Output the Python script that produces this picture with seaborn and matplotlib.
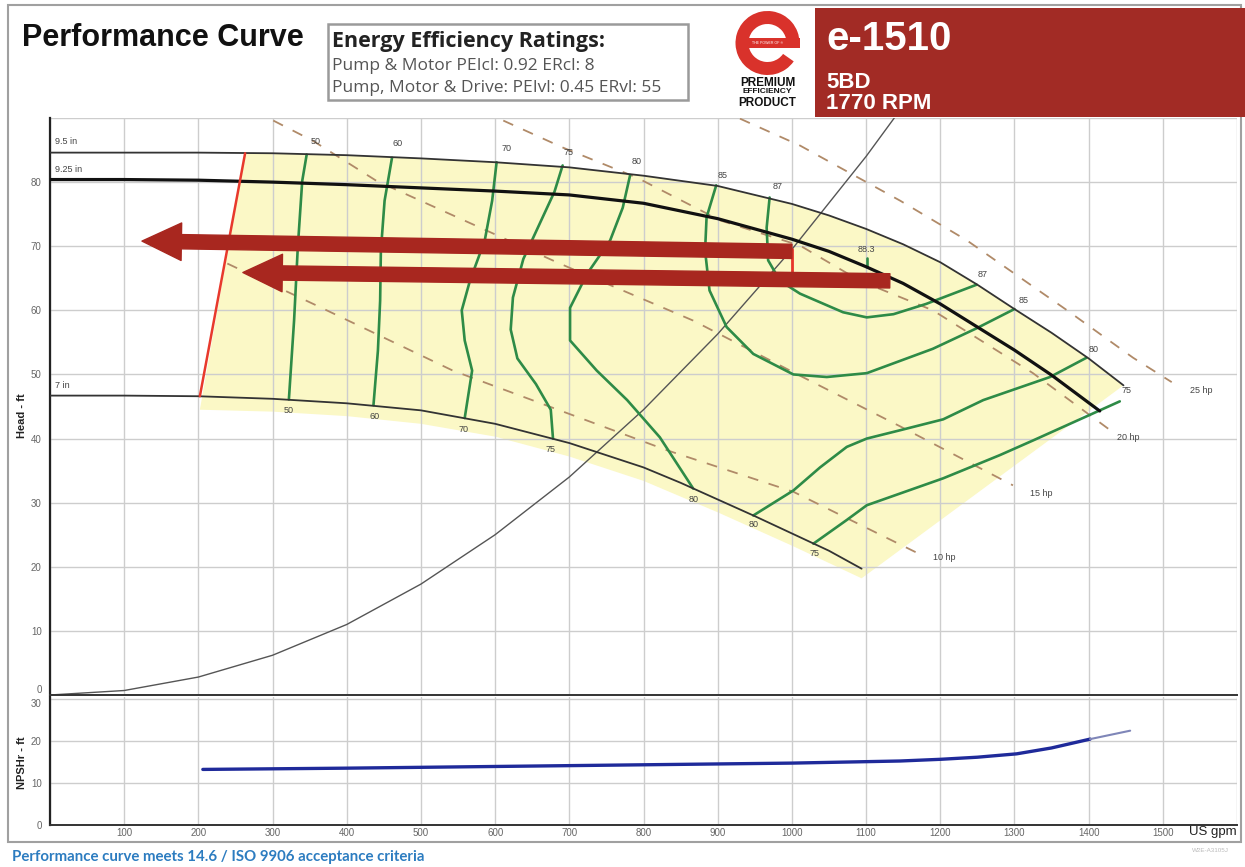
import matplotlib
matplotlib.use("Agg")
import numpy as np
import matplotlib.pyplot as plt
import seaborn as sns
from matplotlib.patches import Rectangle, Wedge, FancyArrowPatch

# ---------------- data (US gpm / ft) ----------------
# impeller head curves
q_950 = [0, 100, 200, 300, 400, 500, 600, 700, 800, 900, 1000, 1050, 1100, 1150, 1200,
         1250, 1300, 1350, 1400, 1447]
h_950 = [84.6, 84.6, 84.6, 84.5, 84.2, 83.7, 83.1, 82.3, 81.0, 79.4, 76.6, 74.8, 72.7, 70.3, 67.5,
         64.0, 60.2, 56.5, 52.5, 48.3]
q_925 = [0, 100, 200, 300, 400, 500, 600, 700, 800, 900, 1000, 1050, 1100, 1150, 1200,
         1250, 1300, 1350, 1415]
h_925 = [80.4, 80.4, 80.3, 80.0, 79.6, 79.1, 78.6, 78.0, 76.7, 74.3, 71.1, 69.2, 66.8, 64.2, 61.0,
         57.4, 53.8, 49.9, 44.3]
q_700 = [0, 100, 200, 300, 400, 500, 600, 700, 800, 850, 900, 950, 1000, 1050, 1094]
h_700 = [46.7, 46.7, 46.6, 46.2, 45.5, 44.4, 42.3, 39.3, 35.5, 33.1, 30.5, 27.9, 25.2, 22.5, 19.7]

# lower edge of the operating region shading
q_shade_low = [202, 300, 400, 500, 600, 700, 800, 900, 1000, 1094]
h_shade_low = [44.5, 44.2, 43.5, 42.3, 40.3, 37.2, 33.4, 28.5, 23.3, 18.2]

# minimum flow line
q_min = [202, 263]
h_min = [46.6, 84.5]

# efficiency contours (%)
eff_lines = {
    "50": ([346, 340, 334, 329, 322], [84.3, 80.2, 69.8, 58.4, 46.1]),
    "60": ([461, 451, 446, 445, 442, 436], [83.8, 77.1, 69.3, 61.5, 53.7, 45.2]),
    "70": ([602, 596, 586, 566, 555, 559, 569, 559], [83.1, 77.1, 70.9, 64.6, 60.0, 55.3, 50.6, 43.2]),
    "75a": ([691, 680, 660, 638, 624, 621, 630, 655, 675, 678],
            [82.6, 78.5, 73.5, 68.0, 62.0, 57.0, 52.5, 48.5, 44.5, 40.0]),
    "80a": ([782, 772, 755, 724, 701, 701, 737, 778, 822, 867],
            [81.1, 76.0, 70.9, 65.7, 60.4, 55.3, 50.6, 46.0, 40.2, 32.2]),
    "85": ([898, 885, 883, 889, 912, 948, 1002, 1047, 1101, 1190, 1249, 1300],
           [79.5, 74.5, 69.3, 63.1, 57.4, 53.2, 50.0, 49.6, 50.2, 54.0, 57.2, 60.2]),
    "87": ([970, 966, 968, 984, 1011, 1069, 1101, 1137, 1181, 1249],
           [77.6, 72.9, 67.8, 64.6, 62.6, 59.7, 58.9, 59.4, 61.0, 64.0]),
    "88.3": ([1101, 1101], [68.2, 66.8]),
    "80b": ([948, 1002, 1038, 1074, 1101, 1146, 1204, 1258, 1348, 1397],
            [28.0, 31.9, 35.5, 38.7, 40.0, 41.3, 43.0, 46.0, 49.6, 52.6]),
    "75b": ([1029, 1074, 1101, 1204, 1280, 1325, 1442], [23.6, 27.3, 29.6, 33.8, 37.4, 39.7, 45.8]),
}
eff_text = ["50", "60", "70", "75", "80", "85", "87", "88.3", "87", "85", "80", "75",
            "50", "60", "70", "75", "80", "80", "75"]
eff_text_q = [358, 469, 615, 699, 791, 907, 981, 1101, 1257, 1313, 1407, 1451,
              322, 438, 558, 675, 867, 949, 1030]
eff_text_h = [86.3, 86.0, 85.2, 84.6, 83.2, 81.0, 79.3, 69.5, 65.6, 61.5, 53.9, 47.5,
              44.4, 43.5, 41.4, 38.3, 30.5, 26.6, 22.1]

# power lines (hp)
hp_lines = {
    "10 hp": ([239, 364, 543, 831, 1002, 1170], [67.3, 60.5, 50.6, 38.2, 31.7, 22.1]),
    "15 hp": ([301, 355, 440, 687, 867, 1011, 1146, 1298], [89.6, 86.4, 80.2, 67.3, 58.4, 49.8, 41.9, 32.7]),
    "20 hp": ([611, 691, 791, 904, 1011, 1092, 1190, 1325, 1428], [89.6, 85.4, 80.7, 74.0, 70.1, 64.6, 60.0, 50.2, 41.4]),
    "25 hp": ([930, 1011, 1146, 1236, 1371, 1460, 1512], [89.9, 85.7, 77.1, 70.9, 60.0, 52.6, 48.8]),
}
hp_text_q = [1190, 1321, 1438, 1536]
hp_text_h = [21.5, 31.5, 40.2, 47.5]

# system curve
q_sys = [0, 100, 200, 300, 400, 500, 600, 700, 800, 900, 1000, 1100, 1138]
h_sys = [0, 0.7, 2.8, 6.2, 11.0, 17.3, 25.0, 34.0, 44.5, 56.3, 69.5, 84.0, 90.0]

# duty point arrows (tail -> tip)
arrow_tail_q = [1000, 1132]
arrow_tail_h = [69.2, 64.6]
arrow_tip_q = [124, 260]
arrow_tip_h = [70.8, 65.9]
duty_q = [1000, 1000]
duty_h = [69.6, 65.5]

# NPSHr
q_npsh = [206, 400, 600, 800, 1000, 1146, 1200, 1250, 1303, 1350, 1402]
h_npsh = [13.2, 13.5, 13.9, 14.3, 14.7, 15.2, 15.6, 16.1, 16.9, 18.3, 20.4]
q_npsh_ext = [1402, 1456]
h_npsh_ext = [20.4, 22.4]

x_ticks = list(range(0, 1601, 100))
x_tick_labels = [""] + [str(v) for v in range(100, 1501, 100)] + [""]
head_ticks = list(range(0, 91, 10))
head_tick_labels = [str(v) for v in range(0, 81, 10)] + [""]
npsh_ticks = [0, 10, 20, 30]

# ---------------- figure ----------------
sns.set_theme(style="white")
plt.rcParams["font.family"] = ["Liberation Sans", "DejaVu Sans"]

W, H = 1245, 867
fig = plt.figure(figsize=(W / 100, H / 100), dpi=100)


def fx(px):
    return px / W


def fy(py):
    return 1 - py / H


ax = fig.add_axes([fx(50), fy(695), fx(1237) - fx(50), fy(118) - fy(695)])
axn = fig.add_axes([fx(50), fy(825), fx(1237) - fx(50), fy(697) - fy(825)])

GRID = "#cdcdcd"
for a in (ax, axn):
    a.set_xlim(0, 1600)
    a.set_xticks(x_ticks)
    a.grid(True, color=GRID, lw=1.0)
    a.set_axisbelow(True)
    for s in ("top", "right"):
        a.spines[s].set_visible(False)
    a.spines["left"].set_color("#222")
    a.spines["left"].set_linewidth(1.6)
    a.spines["bottom"].set_color("#333")
    a.spines["bottom"].set_linewidth(1.4)
    a.tick_params(length=0, labelsize=7, labelcolor="#666", pad=6)

ax.set_ylim(0, 90)
ax.set_yticks(head_ticks)
ax.set_yticklabels(head_tick_labels)
ax.set_xticklabels([])
axn.set_ylim(0, 30.4)
axn.set_yticks(npsh_ticks)
axn.set_xticklabels(x_tick_labels)
axn.tick_params(axis="x", pad=2)
ax.get_yticklabels()[0].set_va("bottom")
axn.get_yticklabels()[-1].set_va("top")

ax.set_ylabel("Head - ft", fontsize=8, weight="bold", color="#222")
ax.yaxis.set_label_coords(-0.019, 0.485)
axn.set_ylabel("NPSHr - ft", fontsize=8, weight="bold", color="#222")
axn.yaxis.set_label_coords(-0.019, 0.49)
axn.set_xlabel("")


def line(a, q, h, **kw):
    sns.lineplot(x=q, y=h, ax=a, sort=False, estimator=None, legend=False,
                 solid_joinstyle="round", solid_capstyle="round", **kw)


# operating region shading
top_q = [263] + [q for q in q_950 if q > 263]
top_h = list(np.interp(top_q, q_950, h_950))
poly_q = top_q + q_shade_low[::-1]
poly_h = top_h + h_shade_low[::-1]
ax.fill(poly_q, poly_h, color="#fbf8c6", lw=0, zorder=0.2)

# power lines
for (name, (q, h)), tq, th in zip(hp_lines.items(), hp_text_q, hp_text_h):
    sns.lineplot(x=q, y=h, ax=ax, sort=False, estimator=None, legend=False,
                 color="#b08a68", lw=1.3, linestyle=(0, (6, 6)), zorder=2)
    ax.text(tq, th, name, fontsize=6.5, color="#444", ha="left", va="center")

# system curve
line(ax, q_sys, h_sys, color="#555", lw=1.0, zorder=2)

# efficiency contours
for name, (q, h) in eff_lines.items():
    line(ax, q, h, color="#2e8b47", lw=1.9, zorder=3)
for t, q, h in zip(eff_text, eff_text_q, eff_text_h):
    ax.text(q, h, t, fontsize=6.5, color="#444", ha="center", va="center")

# head curves
line(ax, q_950, h_950, color="#333", lw=1.3, zorder=4)
line(ax, q_700, h_700, color="#333", lw=1.3, zorder=4)
line(ax, q_925, h_925, color="#111", lw=2.3, zorder=4)
ax.text(7, 86.3, "9.5 in", fontsize=6.5, color="#444", ha="left", va="center")
ax.text(7, 81.9, "9.25 in", fontsize=6.5, color="#444", ha="left", va="center")
ax.text(7, 48.2, "7 in", fontsize=6.5, color="#444", ha="left", va="center")

# minimum flow
line(ax, q_min, h_min, color="#e8392c", lw=1.8, zorder=4)

# duty point marker and arrows
line(ax, duty_q, duty_h, color="#e8352a", lw=2.0, zorder=5)
for tq, th, hq, hh in zip(arrow_tail_q, arrow_tail_h, arrow_tip_q, arrow_tip_h):
    arr = FancyArrowPatch((tq, th), (hq, hh),
                          arrowstyle="simple,head_length=1.05,head_width=1.0,tail_width=0.38",
                          mutation_scale=27, color="#a8271f", shrinkA=0, shrinkB=0, zorder=6)
    ax.add_patch(arr)

# NPSHr
line(axn, q_npsh, h_npsh, color="#1f2a9a", lw=2.4, zorder=3)
line(axn, q_npsh_ext, h_npsh_ext, color="#7f86b8", lw=1.5, zorder=3)

# ---------------- header, frame and footer ----------------
deco = fig.add_axes([0, 0, 1, 1])
deco.set_xlim(0, W)
deco.set_ylim(H, 0)
deco.axis("off")
deco.patch.set_alpha(0)

deco.add_patch(Rectangle((8, 5), 1233, 837, fill=False, ec="#a0a0a0", lw=1.5))
deco.add_patch(Rectangle((815, 8), 430, 109, fc="#a22b25", ec="none"))

deco.text(22, 38, "Performance Curve", fontsize=22, weight="bold", color="#111",
          ha="left", va="center")

deco.add_patch(Rectangle((328, 24), 360, 76, fill=False, ec="#9a9a9a", lw=1.8))
deco.text(332, 42, "Energy Efficiency Ratings:", fontsize=15.5, weight="bold",
          color="#222", ha="left", va="center", family=["Open Sans", "DejaVu Sans"])
deco.text(332, 66, "Pump & Motor PEIcl: 0.92 ERcl: 8", fontsize=12.5, color="#555",
          ha="left", va="center", family=["Open Sans", "DejaVu Sans"])
deco.text(332, 88, "Pump, Motor & Drive: PEIvl: 0.45 ERvl: 55", fontsize=12.5, color="#555",
          ha="left", va="center", family=["Open Sans", "DejaVu Sans"])

# logo
LOGO_RED = "#d9322b"
deco.add_patch(Wedge((767.5, 43), 32, 35, 360, width=13, fc=LOGO_RED, ec="none"))
deco.add_patch(Rectangle((745, 37.5), 54.5, 10, fc=LOGO_RED, ec="none"))
deco.text(767, 42.5, "THE POWER OF ®", fontsize=2.6, color="white", ha="center", va="center")
deco.text(767.5, 82.5, "PREMIUM", fontsize=8.5, weight="bold", color="#111", ha="center", va="center")
deco.text(767.5, 91.5, "EFFICIENCY", fontsize=6.0, weight="bold", color="#111", ha="center", va="center")
deco.text(767.5, 102.5, "PRODUCT", fontsize=8.5, weight="bold", color="#111", ha="center", va="center")

deco.text(826, 39, "e-1510", fontsize=29, weight="bold", color="white", ha="left", va="center")
deco.text(826, 82, "5BD", fontsize=16, weight="bold", color="white", ha="left", va="center")
deco.text(826, 103.5, "1770 RPM", fontsize=16, weight="bold", color="white", ha="left", va="center")

deco.text(1237, 832, "US gpm", fontsize=9.5, color="#222", ha="right", va="center")

deco.text(12, 857, "Performance curve meets 14.6 / ISO 9906 acceptance criteria", fontsize=10.8,
          weight="bold", color="#2c7cc0", ha="left", va="center", family=["Lato", "DejaVu Sans"])
deco.text(1192, 851, "W2E-A3105J", fontsize=4.5, color="#bbbbbb", ha="left", va="center")

fig.savefig("out.png", dpi=100)
